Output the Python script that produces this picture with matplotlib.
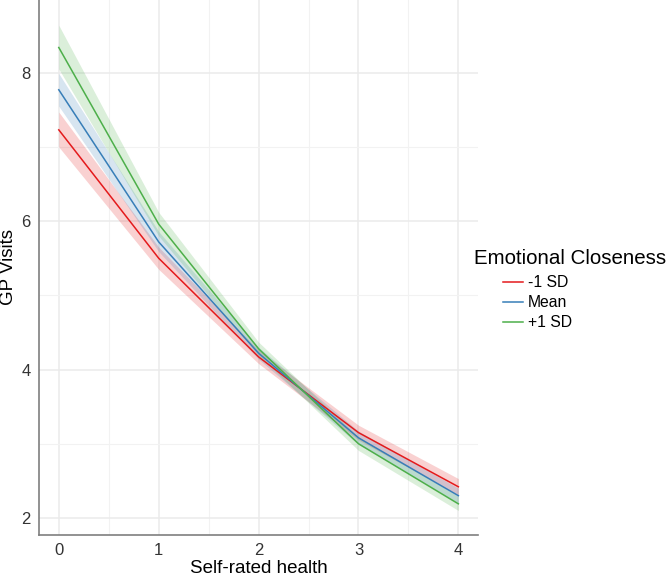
import numpy as np
import matplotlib
matplotlib.use("Agg")
import matplotlib.pyplot as plt
from matplotlib.ticker import MultipleLocator

plt.rcParams['font.family'] = ['Liberation Sans', 'DejaVu Sans']

# Data
health = [0, 1, 2, 3, 4]
groups = ['-1 SD', 'Mean', '+1 SD']
colors = ['#E41A1C', '#377EB8', '#4DAF4A']

fit = {
    '-1 SD': [7.23, 5.50, 4.17, 3.15, 2.42],
    'Mean':  [7.77, 5.72, 4.22, 3.08, 2.30],
    '+1 SD': [8.34, 5.96, 4.28, 3.00, 2.19],
}
lower = {
    '-1 SD': [7.00, 5.35, 4.08, 3.05, 2.31],
    'Mean':  [7.55, 5.59, 4.14, 2.99, 2.20],
    '+1 SD': [8.05, 5.80, 4.19, 2.91, 2.10],
}
upper = {
    '-1 SD': [7.47, 5.65, 4.26, 3.25, 2.53],
    'Mean':  [7.99, 5.86, 4.30, 3.17, 2.40],
    '+1 SD': [8.64, 6.12, 4.37, 3.09, 2.29],
}

fig = plt.figure(figsize=(6.69, 5.78), dpi=100)
ax = fig.add_axes([0.058, 0.0744, 0.657, 0.9256])

for g, c in zip(groups, colors):
    ax.fill_between(health, lower[g], upper[g], color=c, alpha=0.2, linewidth=0)
for g, c in zip(groups, colors):
    ax.plot(health, fit[g], color=c, linewidth=1.1, label=g)

ax.set_xlim(-0.2, 4.2)
ax.set_ylim(1.77, 8.98)
ax.xaxis.set_major_locator(MultipleLocator(1))
ax.xaxis.set_minor_locator(MultipleLocator(0.5))
ax.yaxis.set_major_locator(MultipleLocator(2))
ax.yaxis.set_minor_locator(MultipleLocator(1))
ax.grid(which='major', color='#ebebeb', linewidth=1.1)
ax.grid(which='minor', color='#f2f2f2', linewidth=0.8)
ax.set_axisbelow(True)

for s in ['top', 'right']:
    ax.spines[s].set_visible(False)
for s in ['left', 'bottom']:
    ax.spines[s].set_color('#7f7f7f')
    ax.spines[s].set_linewidth(1.2)

ax.tick_params(which='both', length=0, labelsize=12, labelcolor='#333333')
ax.tick_params(axis='y', pad=6)
ax.tick_params(axis='x', pad=6)
ax.set_xlabel('Self-rated health', fontsize=13.5, labelpad=1)
ax.set_ylabel('GP Visits', fontsize=13.5, labelpad=3)

fig.text(474 / 669, 1 - 258 / 578, 'Emotional Closeness', fontsize=14.8,
         ha='left', va='center')
ax.legend(loc='upper left', bbox_to_anchor=(503 / 669, 1 - 275 / 578),
          bbox_transform=fig.transFigure, frameon=False, fontsize=11.3,
          borderpad=0, borderaxespad=0, handlelength=1.3,
          handletextpad=0.3, labelspacing=0.32)

fig.savefig('out.png', dpi=100)
